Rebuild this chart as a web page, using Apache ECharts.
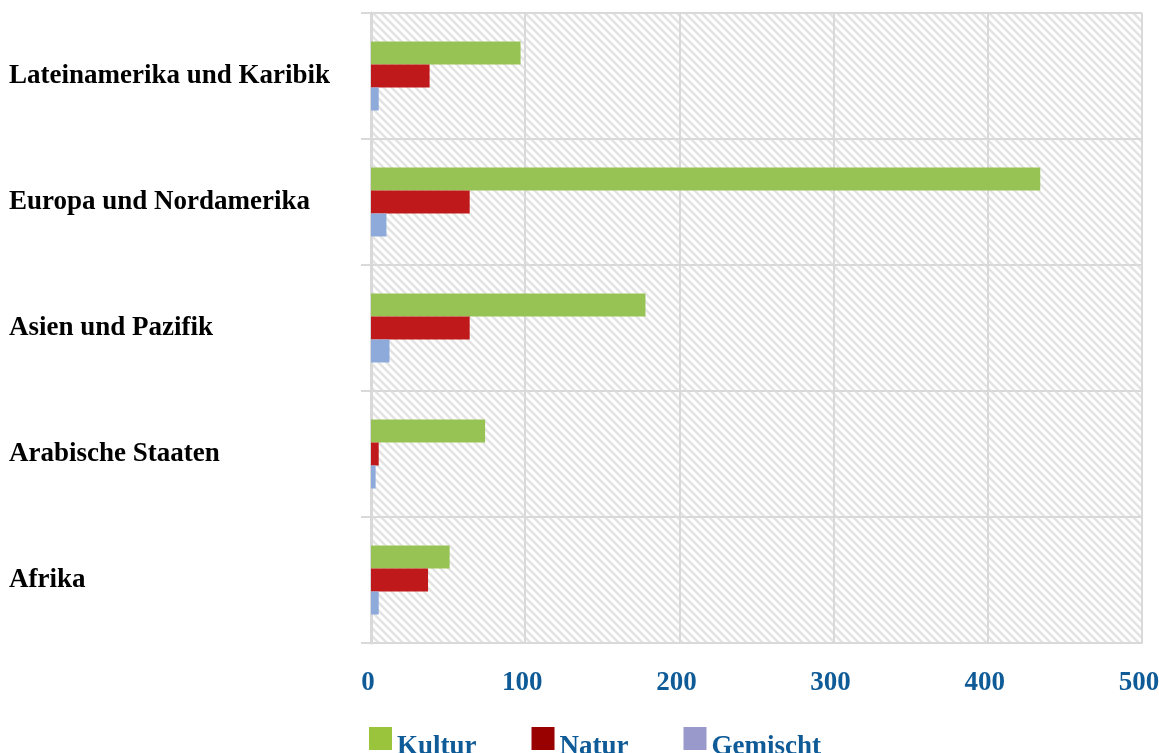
<!DOCTYPE html>
<html>
<head>
<meta charset="utf-8">
<script src="https://cdn.jsdelivr.net/npm/echarts@6/dist/echarts.min.js"></script>
<style>
html,body{margin:0;padding:0;background:#fff;}
#chart{width:1159px;height:753px;}
</style>
</head>
<body>
<div id="chart"></div>
<script>
// Data
const categories = ['Afrika', 'Arabische Staaten', 'Asien und Pazifik', 'Europa und Nordamerika', 'Lateinamerika und Karibik'];
const kultur = [51, 74, 178, 434, 97];
const natur = [37, 5, 64, 64, 38];
const gemischt = [5, 3, 12, 10, 5];
const xTicks = [0, 100, 200, 300, 400, 500];
const seriesNames = ['Kultur', 'Natur', 'Gemischt'];

// hatch pattern
const pc = document.createElement('canvas');
pc.width = 8; pc.height = 8;
const ctx = pc.getContext('2d');
ctx.fillStyle = '#ffffff';
ctx.fillRect(0, 0, 8, 8);
ctx.strokeStyle = '#e3e3e3';
ctx.lineWidth = 2.5;
ctx.beginPath();
ctx.moveTo(-2, -2); ctx.lineTo(10, 10);
ctx.moveTo(-10, -2); ctx.lineTo(2, 10);
ctx.moveTo(6, -2); ctx.lineTo(18, 10);
ctx.stroke();

const serif = 'Liberation Serif, "Times New Roman", serif';
const blue = '#0f5b97';
const gridCol = '#d9d9d9';

const chart = echarts.init(document.getElementById('chart'), null, {renderer: 'canvas'});
chart.setOption({
  backgroundColor: '#ffffff',
  animation: false,
  grid: {
    left: 371, right: 17, top: 13, bottom: 110,
    outerBoundsMode: 'none',
    containLabel: false,
    show: true,
    backgroundColor: {image: pc, repeat: 'repeat'},
    borderWidth: 0
  },
  legend: {
    left: 364,
    top: 722,
    icon: 'rect',
    itemWidth: 23,
    itemHeight: 23,
    itemGap: 55,
    formatter: function (name) { return '{a|' + name + '}'; },
    textStyle: {
      fontFamily: serif, fontWeight: 'bold', fontSize: 27, color: blue,
      rich: {a: {fontFamily: serif, fontWeight: 'bold', fontSize: 27, color: blue, padding: [18, 0, 0, 0]}}
    },
    data: [
      {name: seriesNames[0], itemStyle: {color: '#9ac43c'}},
      {name: seriesNames[1], itemStyle: {color: '#990000'}},
      {name: seriesNames[2], itemStyle: {color: '#9999cc'}}
    ]
  },
  xAxis: {
    type: 'value',
    min: xTicks[0],
    max: xTicks[xTicks.length - 1],
    interval: 100,
    axisLine: {show: true, lineStyle: {color: gridCol, width: 2}},
    axisTick: {show: false},
    splitLine: {show: true, lineStyle: {color: gridCol, width: 2}},
    axisLabel: {fontFamily: serif, fontWeight: 'bold', fontSize: 27, color: blue, margin: 27, padding: [0, 6, 0, 0]}
  },
  yAxis: {
    type: 'category',
    data: categories,
    axisLine: {show: true, lineStyle: {color: gridCol, width: 3}},
    axisTick: {show: true, length: 10, lineStyle: {color: gridCol, width: 2}},
    splitLine: {show: true, lineStyle: {color: gridCol, width: 2}},
    axisLabel: {fontFamily: serif, fontWeight: 'bold', fontSize: 27, color: '#000000', align: 'left', margin: 362}
  },
  series: [
    {name: seriesNames[0], type: 'bar', data: kultur, barWidth: 23, barGap: '0%', itemStyle: {color: '#97c355'}},
    {name: seriesNames[1], type: 'bar', data: natur, barWidth: 23, barGap: '0%', itemStyle: {color: '#c0191b'}},
    {name: seriesNames[2], type: 'bar', data: gemischt, barWidth: 23, barGap: '0%', itemStyle: {color: '#8eaadb'}}
  ]
});
</script>
</body>
</html>
